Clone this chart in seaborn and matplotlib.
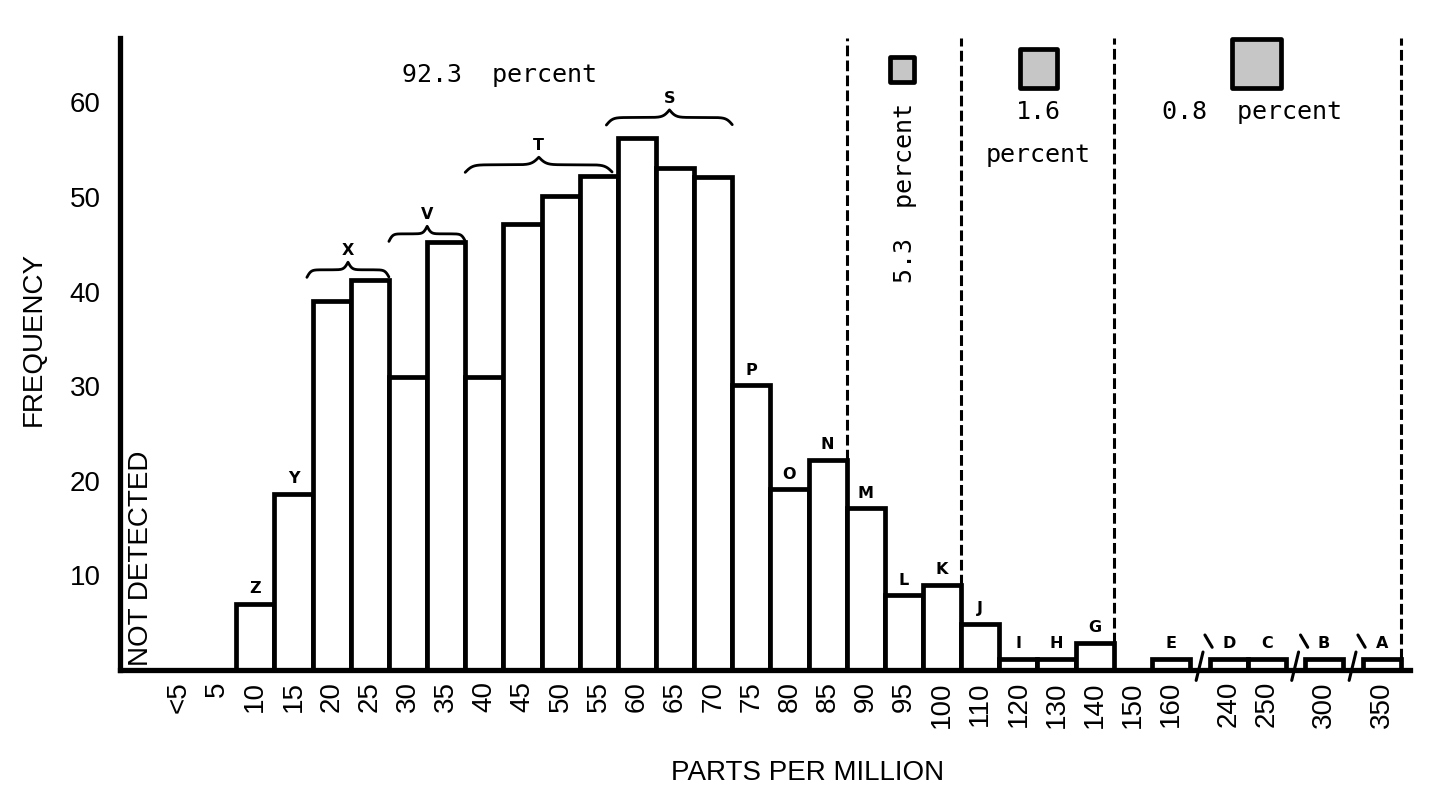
import numpy as np
import matplotlib
matplotlib.use("Agg")
import matplotlib.pyplot as plt
import seaborn as sns
from matplotlib.patches import Rectangle

# Histogram bins (parts per million) and how many samples fall in each
ppm_labels = ["<5", "5", "10", "15", "20", "25", "30", "35", "40", "45",
              "50", "55", "60", "65", "70", "75", "80", "85", "90", "95",
              "100", "110", "120", "130", "140", "150", "160",
              "240", "250", "300", "350"]
frequency = [0, 0, 7, 18.6, 39, 41.2, 31, 45.2, 31, 47.1,
             50.1, 52.2, 56.2, 53.1, 52.1, 30.1, 19.1, 22.2, 17.1, 7.9,
             9, 4.9, 1.2, 1.2, 2.9, 0, 1.2,
             1.2, 1.2, 1.2, 1.2]
bar_letters = ["", "", "Z", "Y", "", "", "", "", "", "",
               "", "", "", "", "", "P", "O", "N", "M", "L",
               "K", "J", "I", "H", "G", "", "E",
               "D", "C", "B", "A"]

# groups marked with a curly brace
brace_letters = ["X", "V", "T", "S"]

# share of samples in each zone, zones end at these bins
share_labels = ["92.3  percent", "5.3  percent", "1.6", "0.8  percent"]
zone_end_bins = ["85", "100", "140", "350"]

# axis breaks after these bins
break_after = {"160": 0.52, "250": 0.49, "300": 0.52}

W, H = 1431, 785

# bin left edges in slot units (one slot per bin, plus the axis breaks)
left = []
x = 0.0
for lab in ppm_labels:
    left.append(x)
    x += 1 + break_after.get(lab, 0)
left = np.array(left)
centers = left + 0.5

sns.set_style("white")
plt.rcParams["font.family"] = ["Liberation Sans Narrow", "Liberation Sans", "DejaVu Sans"]
plt.rcParams["text.color"] = "black"
plt.rcParams["axes.labelcolor"] = "black"
plt.rcParams["xtick.color"] = "black"
plt.rcParams["ytick.color"] = "black"

fig = plt.figure(figsize=(W / 100, H / 100), dpi=100)
ax = fig.add_axes([120 / W, 115 / H, 1 - 120 / W, 632 / H])

sns.barplot(x=centers, y=frequency, native_scale=True, width=1, errorbar=None,
            color="white", edgecolor="black", linewidth=3.4, ax=ax, zorder=3)

slot = 38.15
ax.set_xlim(-40 / slot, (W - 160) / slot)
ax.set_ylim(0, 66.8)

for side in ["top", "right"]:
    ax.spines[side].set_visible(False)
for side in ["left", "bottom"]:
    ax.spines[side].set_linewidth(3.8)
    ax.spines[side].set_color("black")
    ax.spines[side].set_zorder(5)
ax.spines["bottom"].set_bounds(-40 / slot, (1410 - 160) / slot)

ax.set_yticks([10, 20, 30, 40, 50, 60])
ax.tick_params(axis="y", length=8, width=2.2, direction="out", labelsize=20, pad=6)
ax.set_xticks(centers, ppm_labels, rotation=90)
ax.tick_params(axis="x", length=0, labelsize=20, pad=8)
ax.set_xticks([0, 1], minor=True)
ax.tick_params(axis="x", which="minor", direction="in", length=6, width=2)
ax.set_xlabel("")
ax.set_ylabel("FREQUENCY", fontsize=20)
ax.yaxis.set_label_coords((47 - 120) / (W - 120), 35 / 66.8)

ax.text(-0.5, 0.4, "NOT DETECTED", rotation=90, ha="center", va="bottom", fontsize=20)
fig.text(808 / W, 1 - 773 / H, "PARTS PER MILLION", ha="center", va="center", fontsize=20)

# letters above the bars
for cx, val, letter in zip(centers, frequency, bar_letters):
    if letter:
        ax.text(cx, val + 0.8, letter, ha="center", va="bottom", fontsize=11.5,
                fontweight="bold", family="DejaVu Sans")


def brace(x0, x1, y, h, letter):
    xs = np.linspace(x0, x1, 400)
    half = xs[:201]
    beta = 40 / (x1 - x0)
    yh = 1 / (1 + np.exp(-beta * (half - half[0]))) + 1 / (1 + np.exp(-beta * (half - half[-1])))
    yy = np.concatenate([yh, yh[-2::-1]])[:len(xs)]
    ax.plot(xs, y + (yy - 1) * h * 2, color="black", lw=2, solid_capstyle="round")
    ax.text((x0 + x1) / 2, y + h + 0.4, letter, ha="center", va="bottom", fontsize=11.5,
            fontweight="bold", family="DejaVu Sans")


brace_spans = [(3.85, 6.0), (6.0, 8.0), (8.0, 11.85), (11.7, 15.0)]
brace_levels = [42.3, 46.1, 53.4, 58.4]
for (x0, x1), yv, letter in zip(brace_spans, brace_levels, brace_letters):
    brace(x0, x1, yv, 0.8, letter)

# dashed zone separators
for lab in zone_end_bins:
    i = ppm_labels.index(lab)
    ax.vlines(left[i] + 1, frequency[i], 66.8, colors="black", lw=2.2,
              linestyles=(0, (3.5, 1.4)), zorder=4)

# axis break marks
for lab in break_after:
    i = ppm_labels.index(lab)
    xb = left[i] + 1 + break_after[lab] / 2
    ax.plot([xb - 0.1, xb + 0.08], [-1.1, 1.9], color="black", lw=2.2, clip_on=False)
    ax.plot([xb + 0.13, xb + 0.32], [3.7, 2.4], color="black", lw=2.2, clip_on=False)

# percentage annotations
mono = "DejaVu Sans Mono"
fig.text(500 / W, 1 - 75 / H, share_labels[0], ha="center", va="center", fontsize=18, family=mono)
fig.text(905 / W, 1 - 193 / H, share_labels[1], ha="center", va="center", fontsize=18,
         family=mono, rotation=90)
fig.text(1038 / W, 1 - 112 / H, share_labels[2], ha="center", va="center", fontsize=18, family=mono)
fig.text(1038 / W, 1 - 155 / H, "percent", ha="center", va="center", fontsize=18, family=mono)
fig.text(1252 / W, 1 - 112 / H, share_labels[3], ha="center", va="center", fontsize=18, family=mono)

# gray key squares (pixel boxes: x0, x1, ytop, ybottom)
for x0, x1, yt, yb in [(890, 914, 57, 82), (1020, 1057, 49, 88), (1232, 1281, 39, 88)]:
    fig.add_artist(Rectangle((x0 / W, 1 - yb / H), (x1 - x0) / W, (yb - yt) / H,
                             transform=fig.transFigure, facecolor="#c6c6c6",
                             edgecolor="black", lw=3.4, joinstyle="round"))

fig.savefig("out.png", dpi=100)
